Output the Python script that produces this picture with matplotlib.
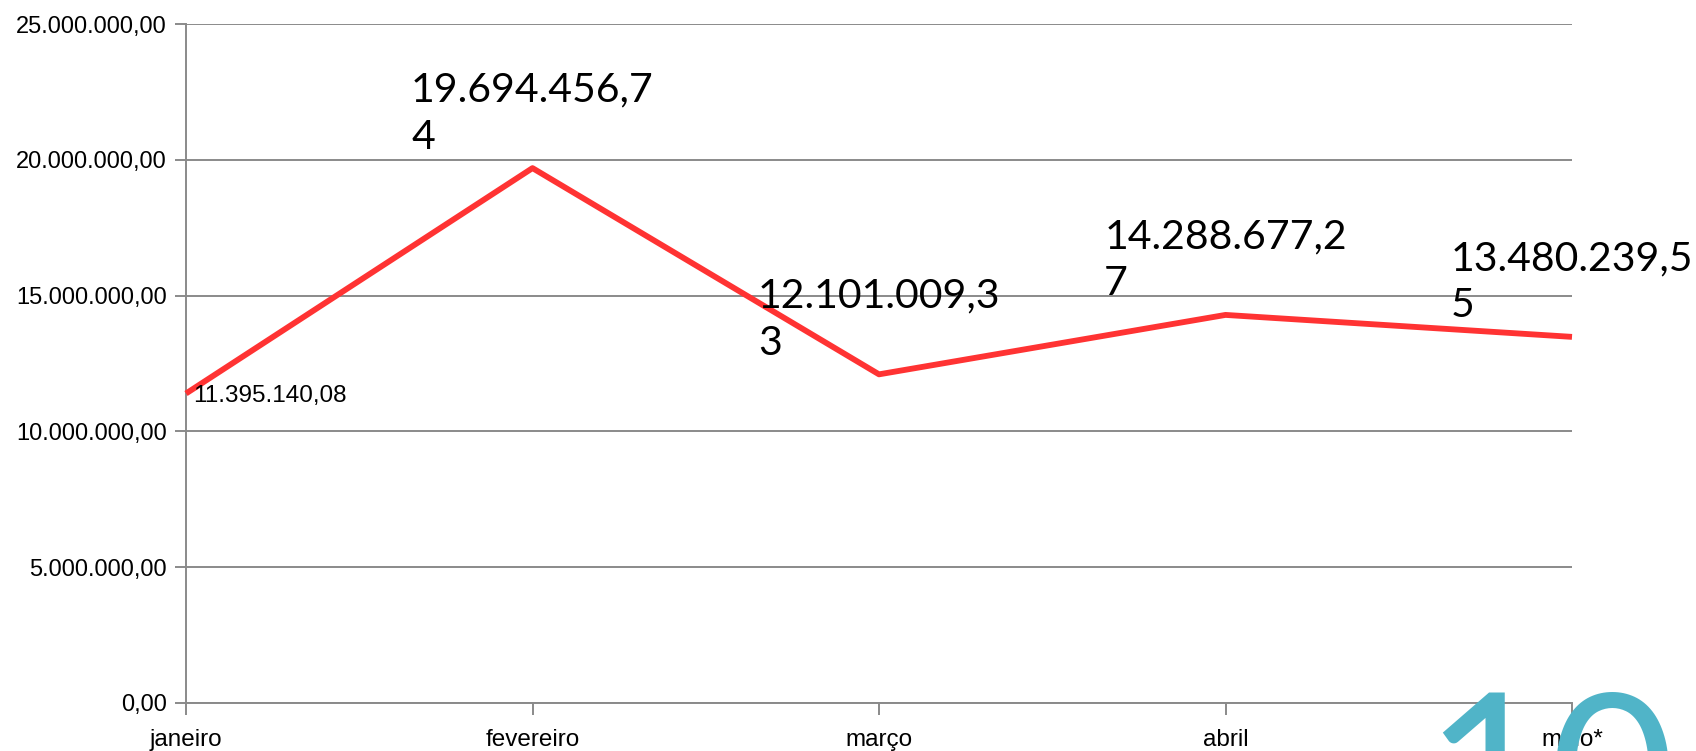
import textwrap
import matplotlib
matplotlib.use("Agg")
import matplotlib.pyplot as plt
from matplotlib.ticker import FuncFormatter

# values
months = ["janeiro", "fevereiro", "março", "abril", "maio*"]
values = [11395140.08, 19694456.74, 12101009.33, 14288677.27, 13480239.55]
y_ticks = [0, 5000000, 10000000, 15000000, 20000000, 25000000]
page_number = "10"


def br_format(v, pos=None):
    s = "{:,.2f}".format(v)
    return s.replace(",", "X").replace(".", ",").replace("X", ".")


fig = plt.figure(figsize=(16.96, 7.51), dpi=100)
ax = fig.add_axes([186 / 1696, 48 / 751, 1386 / 1696, 679 / 751])

grid_col = "#8a8a8a"
x = list(range(len(months)))
ax.plot(x, values, color="#ff3333", lw=4.2, solid_capstyle="butt", zorder=3,
        clip_on=False)

ax.set_xlim(0, len(months) - 1)
ax.set_ylim(0, 25000000)
ax.set_yticks(y_ticks)
ax.yaxis.set_major_formatter(FuncFormatter(br_format))
ax.set_xticks(x)
ax.set_xticklabels(months)
ax.grid(axis="y", color=grid_col, lw=1.4)
ax.set_axisbelow(True)

for side in ["top", "right"]:
    ax.spines[side].set_visible(False)
for side in ["left", "bottom"]:
    ax.spines[side].set_color(grid_col)
    ax.spines[side].set_linewidth(1.4)

ax.tick_params(axis="y", length=8, width=1.4, color=grid_col, pad=6)
ax.tick_params(axis="x", length=8.6, width=1.4, color=grid_col, pad=10)
for lab in ax.get_yticklabels():
    lab.set_fontfamily("Liberation Sans")
    lab.set_fontsize(17)
for lab in ax.get_xticklabels():
    lab.set_fontfamily("Liberation Sans")
    lab.set_fontsize(17.5)

# data labels
for i, v in enumerate(values):
    if i == 0:
        ax.annotate(br_format(v), (i, v), xytext=(5, -1.5),
                    textcoords="offset points", ha="left", va="center",
                    fontsize=17.5, family="Liberation Sans")
    else:
        txt = "\n".join(textwrap.wrap(br_format(v), 12))
        ax.annotate(txt, (i, v), xytext=(0, 9), textcoords="offset points",
                    ha="center", va="bottom", multialignment="left",
                    fontsize=29.5, family="Lato", linespacing=1.34, zorder=4)

# big page number in the corner
fig.text(1424 / 1696, -0.13, page_number, fontsize=156, family="Lato",
         color="#50b4c8", ha="left", va="baseline", zorder=5)

fig.savefig("out.png", dpi=100)
